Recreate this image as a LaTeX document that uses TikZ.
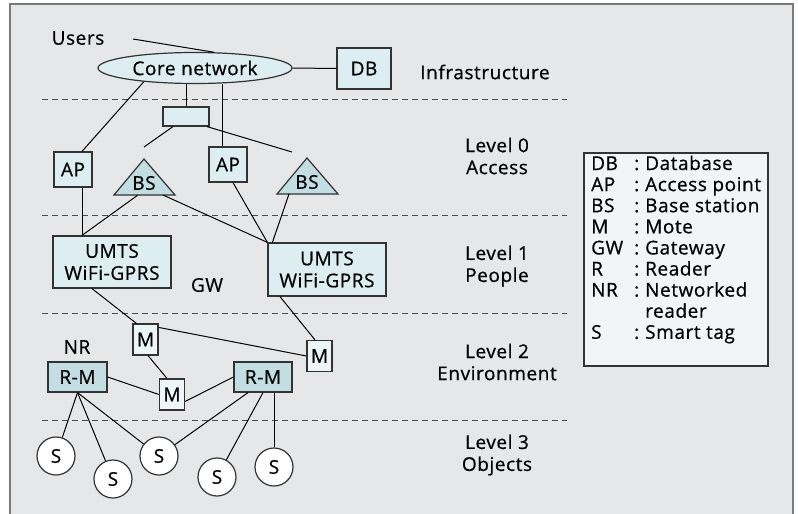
\documentclass[tikz,border=0pt]{standalone}
\usepackage{fontspec}
\setmainfont{Open Sans}[LetterSpace=3,FakeBold=0.6]
\usetikzlibrary{calc,shapes.geometric}
\definecolor{bgc}{HTML}{E6E7E8}
\definecolor{framec}{HTML}{7A7A7A}
\definecolor{boxc}{HTML}{DCEEF2}
\definecolor{darkc}{HTML}{C2DEE2}
\definecolor{motec}{HTML}{ECF6F8}
\definecolor{legc}{HTML}{F3F4F5}
\definecolor{edgec}{HTML}{333333}
\begin{document}
\begin{tikzpicture}[x=1pt,y=-1pt,font=\fontsize{19}{22}\selectfont,
  box/.style={draw=edgec,line width=1.2pt,fill=boxc,inner sep=0pt,align=center},
  darkbox/.style={box,fill=darkc},
  motebox/.style={box,fill=motec,minimum width=25pt,minimum height=31pt},
  tag/.style={circle,draw=edgec,line width=1.2pt,fill=white,minimum size=38pt,inner sep=0pt},
  conn/.style={line width=1pt,black},
  sep/.style={line width=1pt,draw=black!70,dash pattern=on 6pt off 4pt},
  lbl/.style={inner sep=0pt,align=center}]
\useasboundingbox (0,0) rectangle (798,514);
% background and frame
\fill[bgc] (10,4) rectangle (793,514);
\draw[framec,line width=1.5pt] (10,514) -- (10,4) -- (793,4) -- (793,514);
% level separators
\foreach \yy in {99,215.5,313,420} \draw[sep] (42,\yy) -- (567,\yy);
% nodes
\node[lbl] (users) at (78,38) {Users};
\node[box,ellipse,minimum width=194pt,minimum height=31pt] (core) at (195,68) {Core network};
\node[box,minimum width=54pt,minimum height=41pt] (db) at (364,68.5) {DB};
\node[lbl] (infra) at (485,72) {Infrastructure};
\node[box,minimum width=46pt,minimum height=19pt] (hub) at (186,116.5) {};
\node[box,minimum width=38pt,minimum height=35pt] (ap1) at (73,169.5) {AP};
\node[box,minimum width=38pt,minimum height=35pt] (ap2) at (228,164.5) {AP};
% base stations
\coordinate (bs1a) at (144,159); \coordinate (bs1l) at (114,195); \coordinate (bs1r) at (175,195);
\coordinate (bs2a) at (307,158); \coordinate (bs2l) at (277,194); \coordinate (bs2r) at (338,194);
\filldraw[draw=edgec,fill=darkc,line width=1.2pt,line join=miter] (bs1a) -- (bs1r) -- (bs1l) -- cycle;
\filldraw[draw=edgec,fill=darkc,line width=1.2pt,line join=miter] (bs2a) -- (bs2r) -- (bs2l) -- cycle;
\node[lbl] (bs1) at (144,183) {BS};
\node[lbl] (bs2) at (307,182) {BS};
\coordinate (bs1o1) at (138,195); \coordinate (bs1o2) at (163,195);
\coordinate (bs2o) at (289,194);
% gateways
\node[box,minimum width=118pt,minimum height=52pt] (u1) at (112,262) {UMTS\\WiFi-GPRS};
\node[box,minimum width=118pt,minimum height=53pt] (u2) at (327,269.5) {UMTS\\WiFi-GPRS};
\node[lbl] (gw) at (207,285) {GW};
% motes and readers
\node[motebox] (m1) at (145.5,339.5) {M};
\node[motebox] (m2) at (319.5,356) {M};
\node[motebox] (m3) at (172,394.5) {M};
\node[lbl] (nr) at (77,347) {NR};
\node[darkbox,minimum width=59pt,minimum height=30pt] (rm1) at (77.5,377) {R-M};
\node[darkbox,minimum width=58pt,minimum height=30pt] (rm2) at (263,377) {R-M};
% smart tags
\node[tag] (s1) at (56,456) {S};
\node[tag] (s2) at (113,479) {S};
\node[tag] (s3) at (159,456) {S};
\node[tag] (s4) at (217,477) {S};
\node[tag] (s5) at (274,467) {S};
% levels
\node[lbl] (l0) at (497,156) {Level 0\\Access};
\node[lbl] (l1) at (497,266) {Level 1\\People};
\node[lbl] (l2) at (497,362) {Level 2\\Environment};
\node[lbl] (l3) at (497,455) {Level 3\\Objects};
% legend
\node[draw=edgec,line width=1.2pt,fill=legc,minimum width=184pt,minimum height=213pt,inner sep=0pt] (legend) at (676,259.5) {};
\node[inner sep=0pt,anchor=base west] (legtext) at (591,170) {\fontsize{19}{21.1}\selectfont\begin{tabular}[t]{@{}p{43pt}@{}p{11pt}@{}l@{}}
DB & : & Database\\
AP & : & Access point\\
BS & : & Base station\\
M & : & Mote\\
GW & : & Gateway\\
R & : & Reader\\
NR & : & Networked\\
 & & reader\\
S & : & Smart tag
\end{tabular}};
% free ends
\coordinate (uend) at (133,39);
\coordinate (h1) at (144,147);
\coordinate (h2) at (292,152);
% connectors
\draw[conn] (uend) -- (core.40);
\draw[conn] (core.east) -- (db.west);
\draw[conn] (hub.north) -- (hub.north |- core.south);
\draw[conn] ([xshift=-6pt]ap2.north) -- ([xshift=-6pt]ap2.north |- core.south);
\draw[conn] (core.-165) -- ([xshift=9pt]ap1.north);
\draw[conn] ([xshift=-13pt]hub.south) -- (h1);
\draw[conn] ([xshift=21pt]hub.south) -- (h2);
\draw[conn] ([xshift=9pt]ap1.south) -- ([xshift=-30pt]u1.north);
\draw[conn] (bs1o1) -- ([xshift=-30pt]u1.north);
\draw[conn] (bs1o2) -- (u2.north west);
\draw[conn] ([xshift=5pt]ap2.south) -- (u2.north west);
\draw[conn] (bs2o) -- ([xshift=5pt]u2.north west);
\draw[conn] ([xshift=-20pt]u1.south) -- ([xshift=4pt]m1.north west);
\draw[conn] ([xshift=-47pt]u2.south) -- ([xshift=-4.5pt]m2.north);
\draw[conn] ([yshift=-4pt]m1.north east) -- (m2.west);
\draw[conn] ([xshift=2.5pt]m1.south) -- ([xshift=-5pt]m3.north);
\draw[conn] (rm1.east) -- (m3.west);
\draw[conn] ([yshift=-7pt]m3.east) -- (rm2.west);
\draw[conn] (rm1.south) -- (s1);
\draw[conn] (rm1.south) -- (s2);
\draw[conn] (rm1.south) -- (s3);
\draw[conn] ([xshift=-15pt]rm2.south) -- (s3);
\draw[conn] (rm2.south) -- (s4);
\draw[conn] ([xshift=11pt]rm2.south) -- (s5);
\end{tikzpicture}
\end{document}
